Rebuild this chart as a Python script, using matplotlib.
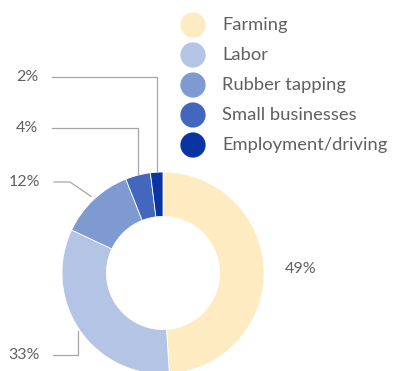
#!/usr/bin/env python3
"""Donut chart of household income sources."""

import matplotlib
matplotlib.use("Agg")
import matplotlib.pyplot as plt
import numpy as np

categories = ["Farming", "Labor", "Rubber tapping", "Small businesses", "Employment/driving"]
shares = [49, 33, 12, 4, 2]
labels = ["49%", "33%", "12%", "4%", "2%"]
colors = ["#FEEBC1", "#B4C4E4", "#7F99D1", "#4267BC", "#0A34A2"]

W, H = 394, 371
TEXT = "#606060"
LINE = "#A6A6A6"
plt.rcParams["font.family"] = ["Lato", "DejaVu Sans"]

fig = plt.figure(figsize=(W / 100, H / 100), dpi=100)
ax = fig.add_axes([0, 0, 1, 1])

cx, cy, r = 163, H - 273, 101
wedges, _ = ax.pie(shares, colors=colors, startangle=90, counterclock=False,
                   center=(cx, cy), radius=r, frame=True,
                   wedgeprops=dict(width=r * 0.44, linewidth=0.6, edgecolor="white"))
ax.set_xlim(0, W)
ax.set_ylim(0, H)
ax.set_aspect("equal")
ax.axis("off")


def anchor(w, k=1.0):
    ang = np.deg2rad((w.theta1 + w.theta2) / 2)
    return cx + k * r * np.cos(ang), cy + k * r * np.sin(ang)


fs = 11.5
# 49% to the right of the big slice
x, y = anchor(wedges[0], 1.21)
ax.text(x, y, labels[0], fontsize=fs, color=TEXT, ha="left", va="center")

# 33%: bracket from below-left
x, y = anchor(wedges[1], 1.02)
ly = H - 355
ax.plot([53, x, x], [ly, ly, y], color=LINE, lw=0.9)
ax.text(40, ly, labels[1], fontsize=fs, color=TEXT, ha="right", va="center")

# 12%: short elbow then diagonal
x, y = anchor(wedges[2], 1.04)
ly = H - 182
ax.plot([54, 70, x], [ly, ly, y], color=LINE, lw=0.9)
ax.text(40, ly, labels[2], fontsize=fs, color=TEXT, ha="right", va="center")

# 4% and 2%: horizontal, then down to the top of the ring
for w, lab, ly in [(wedges[3], labels[3], H - 128), (wedges[4], labels[4], H - 77)]:
    x, y = anchor(w, 1.01)
    ax.plot([52, x, x], [ly, ly, y], color=LINE, lw=0.9)
    ax.text(38, ly, lab, fontsize=fs, color=TEXT, ha="right", va="center")

# legend
for i, (name, c) in enumerate(zip(categories, colors)):
    yy = H - (25 + i * 30)
    ax.scatter([193], [yy], s=330, color=c, edgecolors="none")
    ax.text(222, yy, name, fontsize=13.2, color=TEXT, ha="left", va="center")

fig.savefig("out.png", dpi=100)
